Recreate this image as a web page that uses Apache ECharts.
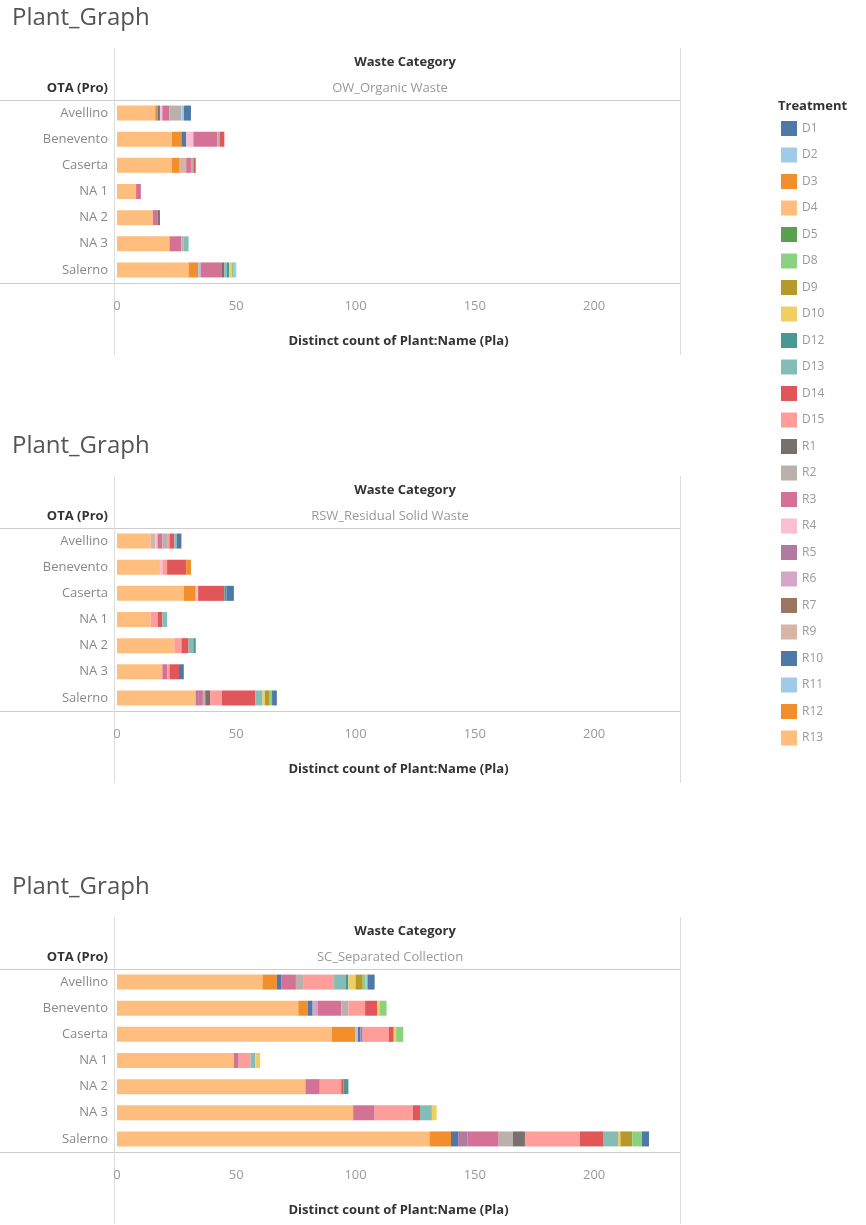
<!DOCTYPE html>
<html>
<head>
<meta charset="utf-8">
<script src="https://cdn.jsdelivr.net/npm/echarts@6/dist/echarts.min.js"></script>
<style>
  body { margin: 0; background: #fff; }
  #echart { width: 866px; height: 1225px; }
</style>
</head>
<body>
<div id="echart"></div>
<script>
// rows of every panel
var regions = ['Avellino', 'Benevento', 'Caserta', 'NA 1', 'NA 2', 'NA 3', 'Salerno'];

// legend order
var treatments = ['D1', 'D2', 'D3', 'D4', 'D5', 'D8', 'D9', 'D10', 'D12', 'D13', 'D14', 'D15',
  'R1', 'R2', 'R3', 'R4', 'R5', 'R6', 'R7', 'R9', 'R10', 'R11', 'R12', 'R13'];
var colors = ['#4e79a7', '#a0cbe8', '#f28e2b', '#ffbe7d', '#59a14f', '#8cd17d', '#b6992d', '#f1ce63',
  '#499894', '#86bcb6', '#e15759', '#ff9d9a', '#79706e', '#bab0ac', '#d37295', '#fabfd2',
  '#b07aa1', '#d4a6c8', '#9d7660', '#d7b5a6', '#4e79a7', '#a0cbe8', '#f28e2b', '#ffbe7d'];

var xTicks = [0, 50, 100, 150, 200];

// distinct plant counts, one array per treatment (Avellino .. Salerno)
var owData = {
  R13: [16, 23, 23, 8, 15, 22, 30],
  R12: [1, 4, 3, 0, 0, 0, 4],
  R11: [0, 0, 0, 0, 0, 0, 1],
  R10: [1, 2, 0, 0, 0, 0, 0],
  R9:  [0, 0, 3, 0, 0, 0, 0],
  R4:  [1, 3, 0, 0, 0, 0, 0],
  R3:  [3, 10, 2, 2, 2, 5, 9],
  R2:  [5, 1, 1, 0, 0, 1, 0],
  R1:  [0, 0, 0, 0, 1, 0, 1],
  D14: [0, 2, 1, 0, 0, 0, 0],
  D13: [0, 0, 0, 0, 0, 2, 1],
  D12: [0, 0, 0, 0, 0, 0, 1],
  D10: [0, 0, 0, 0, 0, 0, 1],
  D8:  [0, 0, 0, 0, 0, 0, 1],
  D2:  [1, 0, 0, 0, 0, 0, 1],
  D1:  [3, 0, 0, 0, 0, 0, 0]
};

var rswData = {
  R13: [14, 18, 28, 14, 24, 19, 33],
  R12: [0, 0, 5, 0, 0, 0, 0],
  R9:  [2, 0, 0, 0, 0, 0, 0],
  R5:  [0, 0, 0, 0, 0, 0, 1],
  R4:  [1, 1, 1, 0, 0, 0, 0],
  R3:  [2, 0, 0, 0, 0, 2, 2],
  R2:  [2, 0, 0, 0, 0, 0, 1],
  R1:  [0, 0, 0, 0, 0, 0, 2],
  D15: [1, 2, 0, 3, 3, 1, 5],
  D14: [2, 8, 11, 2, 3, 4, 14],
  D13: [1, 0, 0, 2, 2, 0, 3],
  D12: [0, 0, 1, 0, 1, 0, 0],
  D10: [0, 0, 0, 0, 0, 0, 1],
  D9:  [0, 0, 0, 0, 0, 0, 2],
  D8:  [0, 0, 0, 0, 0, 0, 1],
  D3:  [0, 2, 0, 0, 0, 0, 0],
  D1:  [2, 0, 3, 0, 0, 2, 2]
};

var scData = {
  R13: [61, 76, 90, 49, 79, 99, 131],
  R12: [6, 4, 10, 0, 0, 0, 9],
  R11: [0, 0, 1, 0, 0, 0, 0],
  R10: [2, 2, 1, 0, 0, 0, 3],
  R6:  [0, 2, 0, 0, 0, 0, 0],
  R5:  [0, 0, 1, 0, 0, 0, 4],
  R3:  [6, 10, 0, 2, 6, 9, 13],
  R2:  [3, 3, 0, 0, 0, 0, 6],
  R1:  [0, 0, 0, 0, 0, 0, 5],
  D15: [13, 7, 11, 5, 9, 16, 23],
  D14: [0, 5, 2, 0, 1, 3, 10],
  D13: [5, 0, 0, 2, 0, 5, 6],
  D12: [1, 0, 0, 0, 2, 0, 0],
  D10: [3, 1, 1, 2, 0, 2, 1],
  D9:  [3, 0, 0, 0, 0, 0, 5],
  D8:  [1, 3, 3, 0, 0, 0, 4],
  D2:  [1, 0, 0, 0, 0, 0, 0],
  D1:  [3, 0, 0, 0, 0, 0, 3]
};

var panels = [
  {sub: 'OW_Organic Waste', data: owData, off: 0},
  {sub: 'RSW_Residual Solid Waste', data: rswData, off: 428},
  {sub: 'SC_Separated Collection', data: scData, off: 869}
];

var myChart = echarts.init(document.getElementById('echart'), null, {renderer: 'canvas'});

var font = "'Open Sans', 'Noto Sans', sans-serif";
var grids = [], xAxes = [], yAxes = [], series = [], graphic = [];
var empty = [0, 0, 0, 0, 0, 0, 0];

// stacking goes from R13 down to D1 (reverse of the legend)
var stackOrder = treatments.slice().reverse();

panels.forEach(function (p, i) {
  var o = p.off;
  grids.push({left: 117, width: 563, top: 100 + o, height: 183});
  xAxes.push({
    type: 'value', gridIndex: i, min: 0, max: 236, interval: 50,
    axisLine: {show: false}, axisTick: {show: false}, splitLine: {show: false},
    axisLabel: {color: '#999', fontSize: 13, fontFamily: font, margin: 17, showMaxLabel: false,
      formatter: function (v) { return xTicks.indexOf(v) >= 0 ? v : ''; }},
    name: 'Distinct count of Plant:Name (Pla)', nameLocation: 'middle', nameGap: 52,
    nameTextStyle: {color: '#333', fontSize: 13, fontWeight: 'bold', fontFamily: font}
  });
  yAxes.push({
    type: 'category', gridIndex: i, data: regions, inverse: true,
    axisLine: {show: false}, axisTick: {show: false},
    axisLabel: {color: '#888', fontSize: 13, fontFamily: font, margin: 9}
  });

  stackOrder.forEach(function (t) {
    series.push({
      name: t, type: 'bar', stack: 'p' + i, xAxisIndex: i, yAxisIndex: i,
      barWidth: 15, data: p.data[t] || empty,
      itemStyle: {color: colors[treatments.indexOf(t)]}
    });
  });

  graphic.push(
    {type: 'text', left: 12, top: 6 + o, style: {text: 'Plant_Graph', fontSize: 24, fill: '#555', fontFamily: font}},
    {type: 'text', x: 405, y: 62 + o, style: {text: 'Waste Category', fontSize: 13, fontWeight: 'bold', fill: '#333', fontFamily: font, align: 'center', verticalAlign: 'middle'}},
    {type: 'text', x: 390, y: 88 + o, style: {text: p.sub, fontSize: 13, fill: '#999', fontFamily: font, align: 'center', verticalAlign: 'middle'}},
    {type: 'text', x: 108, y: 88 + o, style: {text: 'OTA (Pro)', fontSize: 13, fontWeight: 'bold', fill: '#333', fontFamily: font, align: 'right', verticalAlign: 'middle'}},
    {type: 'line', shape: {x1: 0, y1: 100.5 + o, x2: 680, y2: 100.5 + o}, style: {stroke: '#ccc', lineWidth: 1}},
    {type: 'line', shape: {x1: 0, y1: 283.5 + o, x2: 680, y2: 283.5 + o}, style: {stroke: '#ccc', lineWidth: 1}},
    {type: 'line', shape: {x1: 114.5, y1: 48 + o, x2: 114.5, y2: 355 + o}, style: {stroke: '#ddd', lineWidth: 1}},
    {type: 'line', shape: {x1: 680.5, y1: 48 + o, x2: 680.5, y2: 355 + o}, style: {stroke: '#ddd', lineWidth: 1}}
  );
});

graphic.push({type: 'text', x: 778, y: 106, style: {text: 'Treatment', fontSize: 13, fontWeight: 'bold', fill: '#333', fontFamily: font, verticalAlign: 'middle'}});

var option = {
  animation: false,
  backgroundColor: '#fff',
  grid: grids,
  xAxis: xAxes,
  yAxis: yAxes,
  legend: {
    orient: 'vertical', left: 781, top: 121, padding: 0,
    data: treatments, icon: 'rect', itemWidth: 16, itemHeight: 15, itemGap: 11.5,
    textStyle: {color: '#999', fontSize: 12, fontFamily: font},
    selectedMode: false
  },
  graphic: graphic,
  series: series
};
myChart.setOption(option);
</script>
</body>
</html>
